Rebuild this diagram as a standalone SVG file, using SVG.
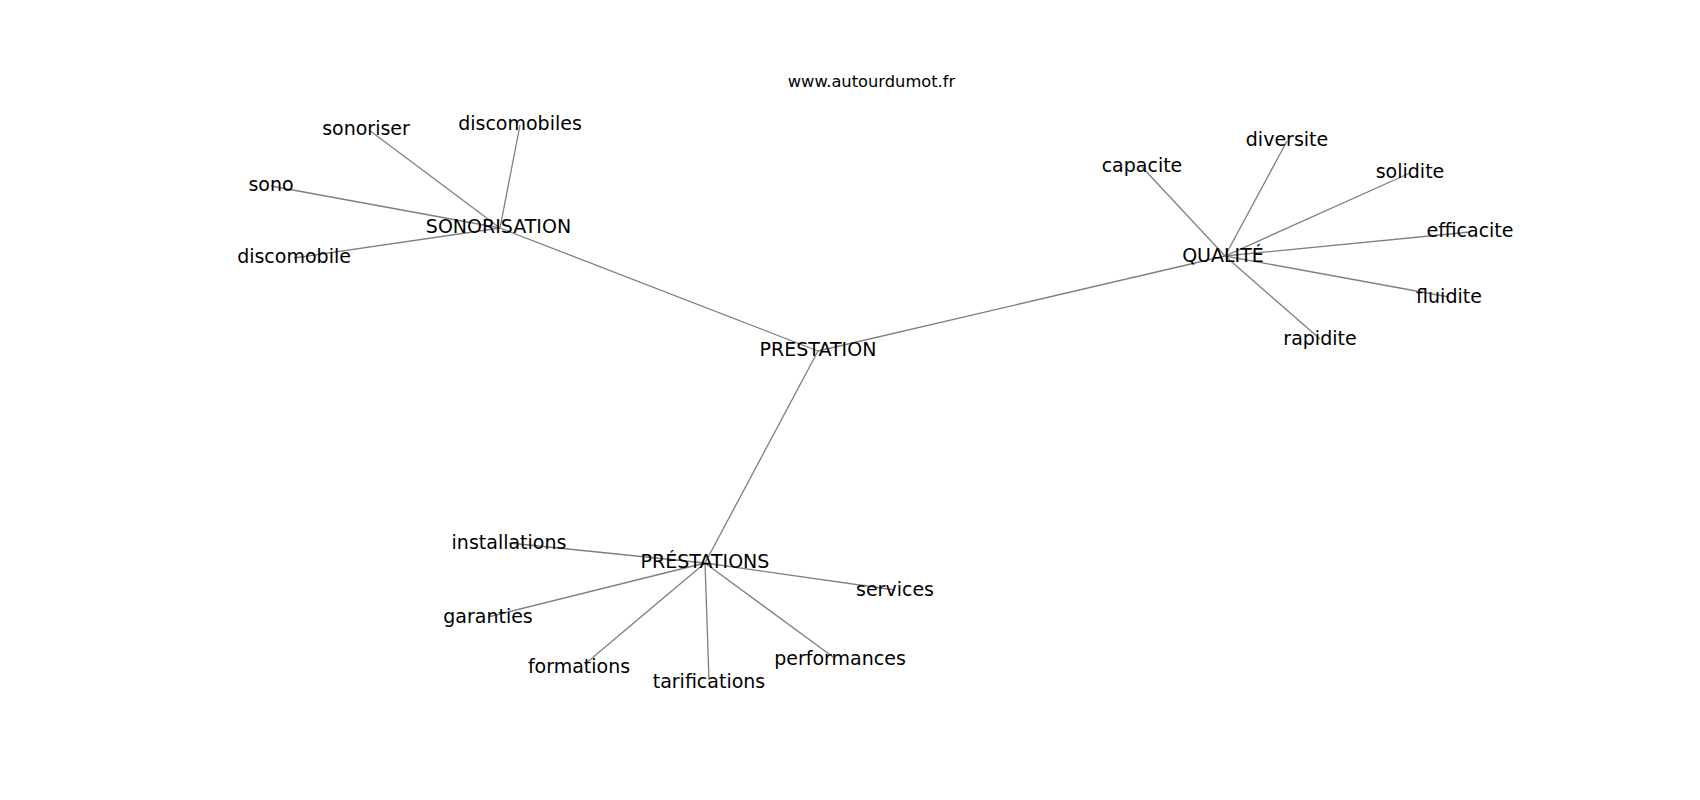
<svg xmlns="http://www.w3.org/2000/svg" width="1700" height="800" viewBox="0 0 1700 800">
<style>
.e{stroke:#7f7f7f;stroke-width:1.3;fill:none}
.n{font-family:"DejaVu Sans",sans-serif;font-size:19px;fill:#000;text-anchor:middle}
.t{font-family:"DejaVu Sans",sans-serif;font-size:16.3px;fill:#000;text-anchor:middle}
</style>
<rect width="1700" height="800" fill="#fff"/>
<text class="t" x="871.5" y="87">www.autourdumot.fr</text>
<g id="edges">
<line class="e" x1="818" y1="351" x2="500" y2="228"/>
<line class="e" x1="818" y1="351" x2="1225" y2="256"/>
<line class="e" x1="818" y1="351" x2="705" y2="563"/>
<line class="e" x1="500" y1="228" x2="369" y2="130"/>
<line class="e" x1="500" y1="228" x2="520" y2="125"/>
<line class="e" x1="500" y1="228" x2="271" y2="186"/>
<line class="e" x1="500" y1="228" x2="294" y2="258"/>
<line class="e" x1="1225" y1="256" x2="1142" y2="167"/>
<line class="e" x1="1225" y1="256" x2="1287" y2="141"/>
<line class="e" x1="1225" y1="256" x2="1410" y2="173"/>
<line class="e" x1="1225" y1="256" x2="1470" y2="232"/>
<line class="e" x1="1225" y1="256" x2="1449" y2="297"/>
<line class="e" x1="1225" y1="256" x2="1320" y2="339"/>
<line class="e" x1="705" y1="563" x2="509" y2="543"/>
<line class="e" x1="705" y1="563" x2="488" y2="617"/>
<line class="e" x1="705" y1="563" x2="585" y2="664"/>
<line class="e" x1="705" y1="563" x2="709" y2="680"/>
<line class="e" x1="705" y1="563" x2="833" y2="657"/>
<line class="e" x1="705" y1="563" x2="895" y2="590"/>
</g>
<g id="n-prestation"><text class="n" x="818" y="356">PRESTATION</text></g>
<g id="n-sonorisation"><text class="n" x="498.5" y="233">SONORISATION</text></g>
<g id="n-sonoriser"><text class="n" x="366" y="135">sonoriser</text></g>
<g id="n-discomobiles"><text class="n" x="520" y="130">discomobiles</text></g>
<g id="n-sono"><text class="n" x="271" y="191">sono</text></g>
<g id="n-discomobile"><text class="n" x="294" y="263">discomobile</text></g>
<g id="n-qualite"><text class="n" x="1223" y="262">QUALITÉ</text></g>
<g id="n-capacite"><text class="n" x="1142" y="172">capacite</text></g>
<g id="n-diversite"><text class="n" x="1287" y="146">diversite</text></g>
<g id="n-solidite"><text class="n" x="1410" y="178">solidite</text></g>
<g id="n-efficacite"><text class="n" x="1470" y="237">efficacite</text></g>
<g id="n-fluidite"><text class="n" x="1449" y="303">fluidite</text></g>
<g id="n-rapidite"><text class="n" x="1320" y="345">rapidite</text></g>
<g id="n-prestations"><text class="n" x="705" y="568">PRÉSTATIONS</text></g>
<g id="n-installations"><text class="n" x="509" y="549">installations</text></g>
<g id="n-garanties"><text class="n" x="488" y="623">garanties</text></g>
<g id="n-formations"><text class="n" x="579" y="673">formations</text></g>
<g id="n-tarifications"><text class="n" x="709" y="688">tarifications</text></g>
<g id="n-performances"><text class="n" x="840" y="665">performances</text></g>
<g id="n-services"><text class="n" x="895" y="596">services</text></g>
</svg>
